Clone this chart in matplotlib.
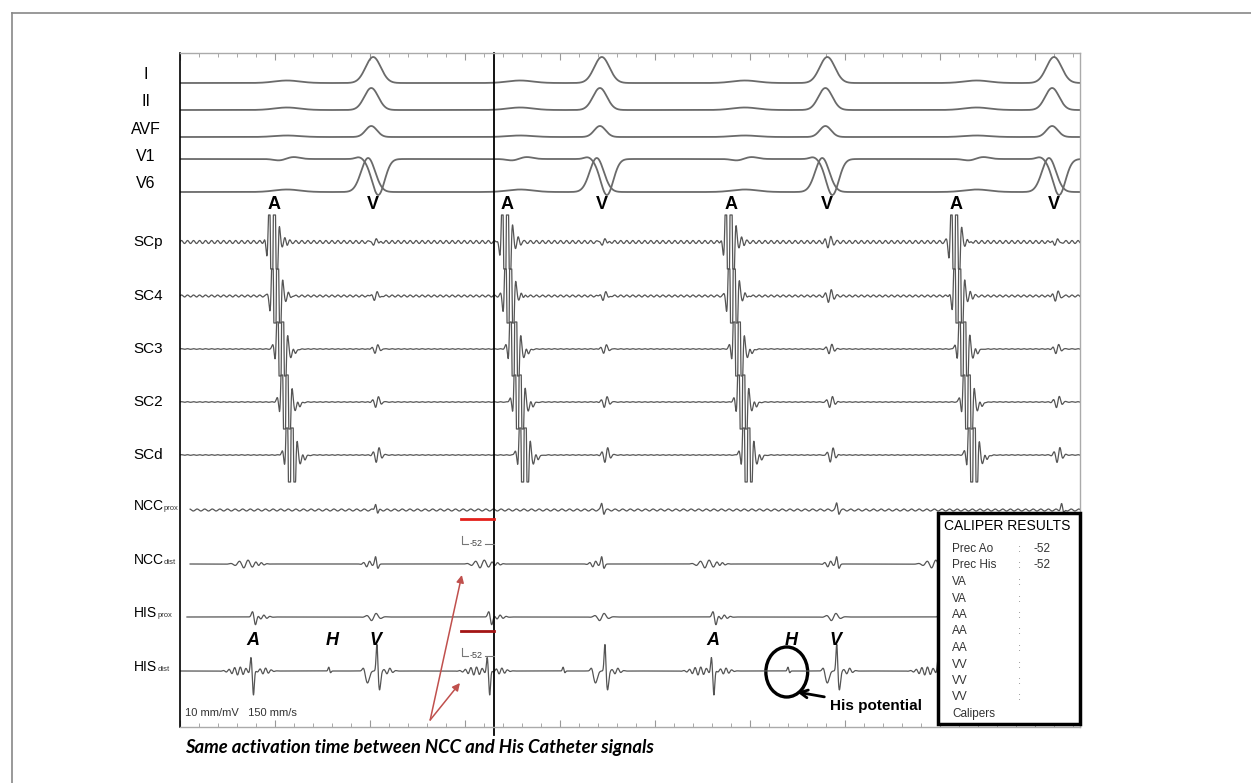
import numpy as np
import matplotlib.pyplot as plt
from matplotlib.patches import Ellipse, Rectangle
from matplotlib.lines import Line2D

# event times, ms from the left edge of the strip
QRS_MS = [305, 666, 1022, 1380]
P_MS = [169, 537, 892, 1258]
SC_A_MS = [147, 515, 868, 1224]
HIS_A_MS = [115, 488, 842, 1200]
HIS_H_MS = [235, 605, 960, 1318]
HIS_V_MS = [311, 671, 1037, 1397]
NCC_A_MS = [104, 477, 832, 1190]
NCC_V_MS = [309, 666, 1037, 1392]

ECG_LEADS = ['I', 'II', 'AVF', 'V1', 'V6']
QRS_AMP = [26, 22, 11, -36, 34]
QRS_SHIFT_MS = [0, -3, -3, 8, -8]
QRS_WIDTH_MS = [12, 11, 9, 10, 11]
P_AMP = [2.5, 2.5, 1.5, 2.0, 2.5]

SC_LEADS = ['SCp', 'SC4', 'SC3', 'SC2', 'SCd']
SC_DELAY_MS = [0, 5, 13, 20, 28]
SC_V_AMP = [5, 6, 5, 6, 8]
SC_RIPPLE = [1.5, 1.0, 0.3, 0.3, 0.3]

LOWER_LEADS = [('NCC', 'prox'), ('NCC', 'dist'), ('HIS', 'prox'), ('HIS', 'dist')]

CALIPER_MS = 496
PREC_AO = -52
PREC_HIS = -52
CALIPER_ROWS = ['Prec Ao', 'Prec His', 'VA', 'VA', 'AA', 'AA', 'AA', 'VV', 'VV', 'VV']
CALIPER_VALUES = ['-52', '-52', '', '', '', '', '', '', '', '']

T_END = 1421

# layout (pixels of the 1251x783 canvas)
W, H = 1251, 783
AX_L, AX_R, AX_T, AX_B = 180, 1080, 53, 727
ECG_BASE = [83, 110, 137, 159, 192]
ECG_LABEL_Y = [75, 102, 130, 157, 184]
SC_BASE = [242, 296, 349, 402, 455]
LOWER_BASE = [510, 564, 617, 671]

plt.rcParams['font.family'] = ['Liberation Sans', 'DejaVu Sans']

t = np.arange(0, T_END, 0.2)


def bump(t0, w):
    return np.exp(-0.5 * ((t - t0) / w) ** 2)


def wave(t0, w, period):
    return bump(t0, w) * np.sin(2 * np.pi * (t - t0) / period)


def fx(px):
    return px / W


def fy(py):
    return 1 - py / H


def ax_x(px):
    return (px - AX_L) / (AX_R - AX_L)


fig = plt.figure(figsize=(12.51, 7.83), dpi=100)
ax = fig.add_axes([fx(AX_L), fy(AX_B), (AX_R - AX_L) / W, (AX_B - AX_T) / H])
ax.set_xlim(0, T_END)
ax.set_ylim(-AX_B, -AX_T)

trace_col = '#555555'

# surface ECG
for i, lead in enumerate(ECG_LEADS):
    sig = np.zeros_like(t)
    for q in QRS_MS:
        sig += QRS_AMP[i] * bump(q + QRS_SHIFT_MS[i], QRS_WIDTH_MS[i])
        if lead == 'V1':
            sig += 2 * bump(q - 22, 6)
    for p in P_MS:
        if lead == 'V1':
            sig += -1.5 * bump(p - 12, 9) + P_AMP[i] * bump(p + 10, 10)
        else:
            sig += P_AMP[i] * bump(p, 20)
    ax.plot(t, sig - ECG_BASE[i], color='#6a6a6a', lw=1.3)
    ax.text(ax_x(146), -ECG_LABEL_Y[i], lead, transform=ax.get_yaxis_transform(),
            ha='center', va='center', fontsize=11.5)

# coronary sinus
for i, lead in enumerate(SC_LEADS):
    sig = SC_RIPPLE[i] * np.sin(2 * np.pi * t / 9.5)
    for a in SC_A_MS:
        t0 = a + SC_DELAY_MS[i]
        sig += 120 * wave(t0, 5, 8.5) + 4 * wave(t0 + 17, 5, 8)
        if i >= 2:
            sig += 5 * bump(t0 - 10, 3) - 4 * bump(t0 + 17, 6)
    for q in QRS_MS:
        sig += SC_V_AMP[i] * wave(q + 3 + i, 5, 10)
    sig = np.clip(sig, -27, 27)
    ax.plot(t, sig - SC_BASE[i], color=trace_col, lw=0.9)
    ax.text(ax_x(133), -SC_BASE[i], lead, transform=ax.get_yaxis_transform(),
            ha='left', va='center', fontsize=11)

# NCC and His catheters
ncc_prox = 1.0 * np.sin(2 * np.pi * t / 12)
for v in NCC_V_MS:
    ncc_prox += 7 * bump(v, 1.5) - 4 * bump(v + 3, 1.5)

ncc_dist = np.zeros_like(t)
for a in NCC_A_MS:
    ncc_dist += 4 * wave(a, 12, 14) + 2 * wave(a + 22, 6, 10)
for v in NCC_V_MS:
    ncc_dist += 3 * wave(v - 12, 6, 10) + 8 * bump(v, 1.5) - 5 * bump(v + 3, 1.8)

his_prox = np.zeros_like(t)
for a in HIS_A_MS:
    his_prox += 6 * bump(a, 2) - 8 * bump(a + 4, 2) + 2 * wave(a + 15, 8, 10)
for v in HIS_V_MS:
    his_prox += 4 * wave(v - 5, 8, 16)

his_dist = np.zeros_like(t)
for a in HIS_A_MS:
    his_dist += 4 * wave(a - 22, 12, 9) + 13 * bump(a - 3, 1.2) - 24 * bump(a + 1, 1.3) \
        + 3 * wave(a + 18, 8, 9)
for h in HIS_H_MS:
    his_dist += 4 * bump(h, 1.2) - 2 * bump(h + 2.5, 1.2)
for v in HIS_V_MS:
    his_dist += -12 * bump(v - 15, 3) + 4 * bump(v - 21, 2) + 28 * bump(v, 1.3) \
        - 19 * bump(v + 4, 1.8) + 3 * wave(v + 18, 6, 10)

lower = [ncc_prox, ncc_dist, his_prox, his_dist]
starts = [16, 16, 11, 0]
for i, (name, sub) in enumerate(LOWER_LEADS):
    m = t >= starts[i]
    ax.plot(t[m], lower[i][m] - LOWER_BASE[i], color=trace_col, lw=0.9)
    lbl = ax.text(ax_x(134), -LOWER_BASE[i] + 4, name, transform=ax.get_yaxis_transform(),
                  ha='left', va='center', fontsize=10, clip_on=False)
    ax.annotate(sub, xy=(1, 0.22), xycoords=lbl, ha='left', va='baseline',
                fontsize=5.5, color='#333333')

# A / V markers
for a, q in zip(SC_A_MS, QRS_MS):
    ax.text(a + 2, -205, 'A', ha='center', va='center', fontsize=13, fontweight='bold')
    ax.text(q, -205, 'V', ha='center', va='center', fontsize=13, fontweight='bold')
for k in (0, 2):
    for x, s in ((HIS_A_MS[k], 'A'), (HIS_H_MS[k] + 5, 'H'), (HIS_V_MS[k] - 2, 'V')):
        ax.text(x, -641, s, ha='center', va='center', fontsize=13,
                fontweight='bold', fontstyle='italic')

# caliper
ax.axvline(CALIPER_MS, ymin=-8 / (AX_B - AX_T), ymax=1, color='black', lw=1.3, clip_on=False)
for y, col, prec in ((519, '#e3201b', PREC_AO), (631, '#a31515', PREC_HIS)):
    ax.plot([CALIPER_MS + prec, CALIPER_MS], [-y, -y], color=col, lw=2)
    yb = y + 25
    ax.plot([CALIPER_MS + prec + 2, CALIPER_MS + prec + 2, CALIPER_MS + prec + 11],
            [-yb + 8, -yb, -yb], color='#777777', lw=0.8)
    ax.text(CALIPER_MS + prec + 13, -yb, str(prec), fontsize=6.5, color='#444444',
            ha='left', va='center')
    ax.plot([CALIPER_MS - 14, CALIPER_MS], [-yb, -yb], color='#777777', lw=0.8)

# red arrows
for tip in ((NCC_A_MS[1] - 32, -575), (NCC_A_MS[1] - 35, -683)):
    ax.annotate('', xy=tip, xytext=(395, -720),
                arrowprops=dict(arrowstyle='-|>', color='#c0504d', lw=1.1,
                                mutation_scale=11, shrinkA=0, shrinkB=0))

# His potential highlight
ax.add_patch(Ellipse((HIS_H_MS[2] - 2, -672), 66, 50, fill=False, lw=2.4, color='black'))
ax.annotate('His potential', xy=(HIS_H_MS[2] + 14, -692), xytext=(HIS_H_MS[2] + 66, -706),
            ha='left', va='center', fontsize=11, fontweight='bold',
            arrowprops=dict(arrowstyle='->', color='black', lw=2,
                            mutation_scale=14, shrinkA=2, shrinkB=0))

ax.text(0.006, -713, '10 mm/mV   150 mm/s', transform=ax.get_yaxis_transform(),
        fontsize=8, color='#333333', ha='left', va='center')

# axes frame and time ticks
ax.set_xticks(np.arange(0, T_END, 150))
ax.set_xticks(np.arange(0, T_END, 30), minor=True)
ax.set_yticks([])
ax.tick_params(axis='x', which='both', direction='in', top=True, bottom=True,
               labelbottom=False, colors='#999999')
ax.tick_params(axis='x', which='major', length=5)
ax.tick_params(axis='x', which='minor', length=3)
for side in ('top', 'bottom', 'right'):
    ax.spines[side].set_color('#aaaaaa')
    ax.spines[side].set_linewidth(1)
ax.spines['left'].set_color('black')
ax.spines['left'].set_linewidth(1.2)

# caliper results box
box_l, box_t, box_r, box_b = 938, 513, 1080, 724
fig.add_artist(Rectangle((fx(box_l), fy(box_b)), (box_r - box_l) / W, (box_b - box_t) / H,
                         transform=fig.transFigure, facecolor='white', edgecolor='black',
                         lw=2.5, zorder=5))
fig.text(fx(944), fy(526), 'CALIPER RESULTS', fontsize=10, ha='left', va='center', zorder=6)
for j, (row, val) in enumerate(zip(CALIPER_ROWS, CALIPER_VALUES)):
    yy = 549 + j * 16.5
    fig.text(fx(952), fy(yy), row, fontsize=8.5, color='#333333', ha='left', va='center', zorder=6)
    fig.text(fx(1018), fy(yy), ':', fontsize=8, color='#888888', ha='left', va='center', zorder=6)
    if val:
        fig.text(fx(1033), fy(yy), val, fontsize=8.5, color='#333333', ha='left',
                 va='center', zorder=6)
fig.text(fx(952), fy(714), 'Calipers', fontsize=8.5, color='#333333', ha='left', va='center', zorder=6)

# caption
fig.text(fx(185), fy(748), 'Same activation time between NCC and His Catheter signals',
         fontsize=13.3, fontweight='bold', fontstyle='italic', family=['Lato', 'DejaVu Sans'],
         ha='left', va='center')

# outer frame
fig.add_artist(Line2D([fx(12), 1], [fy(13), fy(13)], transform=fig.transFigure,
                      color='#888888', lw=1.2))
fig.add_artist(Line2D([fx(12), fx(12)], [fy(13), 0], transform=fig.transFigure,
                      color='#888888', lw=1.2))

fig.savefig('out.png', dpi=100)
